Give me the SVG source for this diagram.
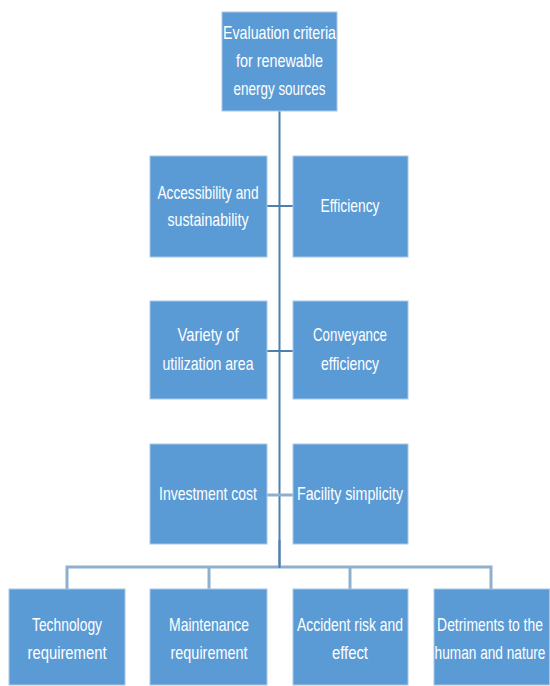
<svg xmlns="http://www.w3.org/2000/svg" width="550" height="686" viewBox="0 0 550 686">
<style>
.box{fill:#5B9BD5;stroke:#a9c8e8;stroke-width:1}
.t{font-family:"Liberation Sans",Arial,sans-serif;font-size:19px;fill:#ffffff;text-anchor:middle}
.ln{stroke:#4f7fae;stroke-width:2;fill:none}
.lt{stroke:#8fb0cc;stroke-width:3;fill:none}
</style>
<rect width="550" height="686" fill="#ffffff"/>
<g id="connectors">
<line class="ln" x1="279.5" y1="111" x2="279.5" y2="568"/>
<line class="ln" x1="267" y1="206" x2="293" y2="206"/>
<line class="ln" x1="267" y1="351" x2="293" y2="351"/>
<line class="lt" x1="267" y1="495" x2="293" y2="495"/>
<path class="lt" d="M67 589 V567 H491 V589"/>
<line class="lt" x1="209" y1="567" x2="209" y2="589"/>
<line class="lt" x1="350" y1="567" x2="350" y2="589"/>
<line class="ln" x1="279.5" y1="540" x2="279.5" y2="568"/>
</g>
<g id="root">
<rect class="box" x="222" y="12" width="115" height="99"/>
<text class="t" x="279.5" y="39" textLength="113" lengthAdjust="spacingAndGlyphs">Evaluation criteria</text>
<text class="t" x="279.5" y="67" textLength="87" lengthAdjust="spacingAndGlyphs">for renewable</text>
<text class="t" x="279.5" y="95" textLength="92" lengthAdjust="spacingAndGlyphs">energy sources</text>
</g>
<g id="accessibility">
<rect class="box" x="150" y="156" width="117" height="101"/>
<text class="t" x="208" y="199" textLength="101" lengthAdjust="spacingAndGlyphs">Accessibility and</text>
<text class="t" x="208" y="226" textLength="81" lengthAdjust="spacingAndGlyphs">sustainability</text>
</g>
<g id="efficiency">
<rect class="box" x="293" y="156" width="115" height="101"/>
<text class="t" x="350" y="212" textLength="59" lengthAdjust="spacingAndGlyphs">Efficiency</text>
</g>
<g id="variety">
<rect class="box" x="150" y="301" width="117" height="98"/>
<text class="t" x="208" y="341" textLength="61" lengthAdjust="spacingAndGlyphs">Variety of</text>
<text class="t" x="208" y="370" textLength="91" lengthAdjust="spacingAndGlyphs">utilization area</text>
</g>
<g id="conveyance">
<rect class="box" x="293" y="301" width="115" height="98"/>
<text class="t" x="350" y="341" textLength="74" lengthAdjust="spacingAndGlyphs">Conveyance</text>
<text class="t" x="350" y="370" textLength="58" lengthAdjust="spacingAndGlyphs">efficiency</text>
</g>
<g id="investment">
<rect class="box" x="150" y="444" width="117" height="100"/>
<text class="t" x="208" y="500" textLength="98" lengthAdjust="spacingAndGlyphs">Investment cost</text>
</g>
<g id="facility">
<rect class="box" x="293" y="444" width="115" height="100"/>
<text class="t" x="350" y="500" textLength="106" lengthAdjust="spacingAndGlyphs">Facility simplicity</text>
</g>
<g id="technology">
<rect class="box" x="9" y="589" width="116" height="96"/>
<text class="t" x="67" y="631" textLength="70" lengthAdjust="spacingAndGlyphs">Technology</text>
<text class="t" x="67" y="659" textLength="79" lengthAdjust="spacingAndGlyphs">requirement</text>
</g>
<g id="maintenance">
<rect class="box" x="150" y="589" width="117" height="96"/>
<text class="t" x="209" y="631" textLength="80" lengthAdjust="spacingAndGlyphs">Maintenance</text>
<text class="t" x="209" y="659" textLength="77" lengthAdjust="spacingAndGlyphs">requirement</text>
</g>
<g id="accident">
<rect class="box" x="293" y="589" width="115" height="96"/>
<text class="t" x="350" y="631" textLength="106" lengthAdjust="spacingAndGlyphs">Accident risk and</text>
<text class="t" x="350" y="659" textLength="36" lengthAdjust="spacingAndGlyphs">effect</text>
</g>
<g id="detriments">
<rect class="box" x="434" y="589" width="115.5" height="96"/>
<text class="t" transform="translate(490,631) scale(0.72,1)" textLength="147" lengthAdjust="spacingAndGlyphs">Detriments to the</text>
<text class="t" transform="translate(490,659) scale(0.72,1)" textLength="154" lengthAdjust="spacingAndGlyphs">human and nature</text>
</g>
</svg>
